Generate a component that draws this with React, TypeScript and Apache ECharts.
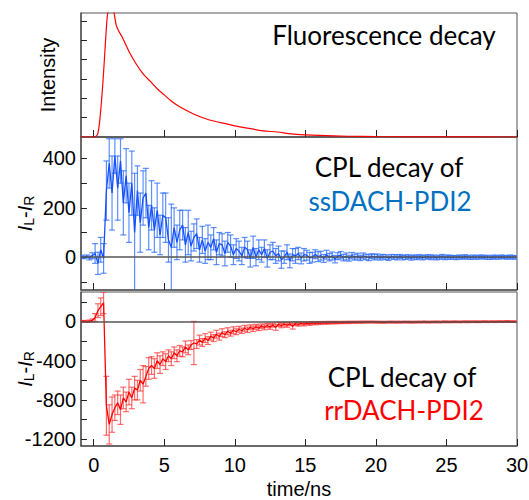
import React, { useEffect, useRef } from "react";
import * as echarts from "echarts";

// ---------- data ----------
const xTickValues = [0, 5, 10, 15, 20, 25, 30];
const intensityTicks = [1, 2, 3, 4, 5, 6];
const blueLabelValues = [0, 200, 400];
const blueTickValues = [-100, 0, 100, 200, 300, 400];
const redLabelValues = [-1200, -800, -400, 0];
const redTickValues = [-1200, -1000, -800, -600, -400, -200, 0, 200];

// Fluorescence decay (arbitrary units)
const fluoTime = [-0.9, 0, 0.2, 0.3, 0.4, 0.5, 0.6, 0.7, 0.8, 0.9, 1.0, 1.2, 1.4, 1.6, 1.8, 2.0, 2.5, 3.0, 3.5, 4.0, 4.5, 5.0, 5.5, 6.0, 7, 8, 9, 10, 11, 12, 13, 14, 15, 16, 18, 20, 22, 25, 30];
const fluoIntensity = [0, 0, 0.06, 0.2, 0.65, 1.4, 2.3, 3.35, 4.5, 5.65, 6.42, 6.75, 6.55, 5.78, 5.45, 5.2, 4.43, 3.79, 3.27, 2.89, 2.5, 2.18, 1.86, 1.6, 1.22, 0.93, 0.74, 0.58, 0.45, 0.32, 0.26, 0.16, 0.11, 0.08, 0.04, 0.02, 0.01, 0.005, 0];

// CPL decay sampling: start time and step (ns)
const T0 = -0.9;
const DT = 0.2;

// ssDACH-PDI2 (I_L - I_R) and error
const blueValues = [
  2, -1, 3, -3, 6, 15, -25, 30, -5, 270,
  380, 260, 410, 280, 390, 220, 330, 180, 300, 100,
  270, 140, 240, 260, 120, 210, 110, 190, 90, 170,
  160, 70, 40, 120, 60, 110, 130, 50, 100, 45,
  80, 95, 30, 70, 25, 60, 40, 75, 20, 55,
  50, 15, 60, 45, 10, 35, 25, 5, 40, 30,
  -5, 40, 0, 30, 10, 35, -5, 20, 25, 5,
  15, -10, 0, 20, -15, 10, 5, 15, -5, 10,
  8, -3, 0, 12, 2, 6, -5, 10, 0, 5,
  -8, 4, 8, -2, 3, -4, 6, 0, 4, -3,
  5, 1, -2, 4, 0, 3, -2, 2, 0, -4,
  2, 1, -1, 3, -2, 0, 2, -3, 1, -1,
  2, -2, 0, 2, -1, 1, -3, 0, 2, -2,
  1, -1, 0, -2, 1, -1, 2, 0, -2, 1,
  -1, 0, 2, -1, 0, -2, 1, 0, -1, 2,
  0, -1, 1, 0, -1,
];
const blueErrors = [
  6, 5, 6, 8, 12, 40, 45, 50, 60, 120,
  100, 150, 70, 130, 90, 130, 110, 120, 130, 240,
  100, 120, 110, 100, 90, 100, 90, 110, 80, 90,
  100, 90, 175, 80, 70, 80, 60, 70, 90, 60,
  55, 60, 50, 55, 50, 70, 50, 45, 50, 45,
  45, 50, 40, 45, 40, 40, 40, 35, 40, 35,
  35, 45, 35, 40, 30, 35, 35, 30, 35, 30,
  30, 35, 25, 30, 28, 25, 30, 25, 22, 25,
  20, 22, 20, 18, 20, 18, 16, 18, 15, 16,
  15, 14, 15, 13, 14, 12, 13, 12, 12, 11,
  12, 11, 12, 10, 11, 10, 10, 9, 10, 9,
  9, 9, 10, 8, 9, 9, 8, 9, 8, 9,
  8, 9, 8, 8, 9, 8, 8, 8, 9, 8,
  8, 8, 7, 8, 8, 7, 8, 8, 7, 8,
  7, 8, 7, 7, 8, 7, 7, 8, 7, 7,
  7, 7, 8, 7, 7,
];

// rrDACH-PDI2 (I_L - I_R) and error
const redValues = [
  0, 2, -2, 4, 10, 40, 110, 150, 190, -860,
  -1050, -950, -880, -830, -900, -780, -820, -720, -780, -680,
  -700, -600, -640, -560, -480, -450, -480, -400, -440, -380,
  -410, -350, -380, -320, -350, -300, -310, -260, -290, -240,
  -220, -230, -190, -215, -170, -195, -150, -170, -130, -155,
  -115, -135, -100, -120, -90, -105, -80, -95, -70, -85,
  -60, -75, -55, -68, -48, -60, -42, -55, -38, -60,
  -30, -42, -28, -38, -25, -50, -22, -30, -20, -28,
  -18, -24, -15, -20, -14, -18, -12, -16, -11, -14,
  -10, -13, -9, -12, -8, -11, -7, -10, -7, -9,
  -6, -8, -5, -8, -5, -9, -6, -10, -7, -8,
  -5, -9, -6, -8, -7, -5, -8, -6, -9, -5,
  -7, -6, -4, -8, -5, -6, -4, -7, -5, -3,
  -6, -4, -5, -3, -6, -4, -2, -5, -3, -4,
  -2, -5, -3, -1, -4, -3, -2, -4, -1, -3,
  -2, 0, -3, -1, -2,
];
const redErrors = [
  8, 8, 8, 10, 15, 40, 70, 90, 110, 300,
  200, 180, 130, 120, 150, 110, 100, 130, 110, 120,
  100, 110, 190, 100, 110, 90, 100, 80, 90, 70,
  80, 60, 70, 60, 60, 55, 50, 60, 50, 45,
  220, 45, 50, 40, 45, 40, 40, 35, 40, 35,
  40, 30, 35, 30, 35, 30, 30, 28, 30, 28,
  25, 28, 25, 25, 22, 25, 22, 25, 20, 30,
  20, 22, 20, 22, 18, 28, 18, 18, 16, 18,
  15, 15, 14, 14, 13, 13, 12, 12, 12, 11,
  11, 11, 10, 10, 10, 10, 9, 9, 9, 9,
  9, 8, 8, 8, 8, 8, 8, 8, 8, 8,
  8, 8, 8, 8, 8, 7, 8, 8, 7, 8,
  7, 8, 7, 8, 7, 7, 8, 7, 7, 8,
  7, 7, 8, 7, 7, 7, 7, 8, 7, 7,
  7, 7, 7, 7, 7, 7, 7, 7, 7, 7,
  7, 7, 7, 7, 7,
];

// ---------- helpers ----------
const AXIS_COLOR = "#555";
const FONT = "Liberation Sans";
const X_MIN = -0.9;
const X_MAX = 30;

function errorBarRenderer(color: string) {
  return (params: any, api: any) => {
    const x = api.value(0);
    const y = api.value(1);
    const e = api.value(2);
    const top = api.coord([x, y + e]);
    const bot = api.coord([x, y - e]);
    const hw = 3;
    const style = { stroke: color, lineWidth: 1.2, fill: null };
    return {
      type: "group",
      children: [
        { type: "line", shape: { x1: top[0], y1: top[1], x2: bot[0], y2: bot[1] }, style },
        { type: "line", shape: { x1: top[0] - hw, y1: top[1], x2: top[0] + hw, y2: top[1] }, style },
        { type: "line", shape: { x1: bot[0] - hw, y1: bot[1], x2: bot[0] + hw, y2: bot[1] }, style },
      ],
    };
  };
}

const plainNumber = (v: number) => String(v);

function xAxisFor(gridIndex: number, showLabels: boolean): any {
  return {
    type: "value",
    gridIndex,
    min: X_MIN,
    max: X_MAX,
    axisLine: { show: true, onZero: false, lineStyle: { color: AXIS_COLOR, width: 1.5 } },
    axisTick: { show: true, inside: true, length: 7, customValues: xTickValues, lineStyle: { color: "#222", width: 1 } },
    axisLabel: { show: showLabels, customValues: xTickValues, fontSize: 20, color: "#000", fontFamily: FONT, margin: 9, formatter: plainNumber },
    splitLine: { show: false },
    ...(showLabels
      ? {
          name: "time/ns",
          nameLocation: "middle",
          nameGap: 33,
          nameMoveOverlap: false,
          nameTextStyle: { fontSize: 20, color: "#000", fontFamily: FONT },
        }
      : {}),
  };
}

const ilirName = "{i|I}{s|L}{n|-}{i|I}{s|R}";
const ilirRich = {
  i: { fontSize: 20, fontStyle: "italic", fontFamily: FONT, color: "#000", lineHeight: 22 },
  n: { fontSize: 20, fontFamily: FONT, color: "#000", lineHeight: 22 },
  s: { fontSize: 14, fontFamily: FONT, color: "#000", lineHeight: 14, padding: [8, 0, 0, 0] },
};

function yAxisFor(gridIndex: number, extra: any): any {
  return {
    type: "value",
    gridIndex,
    axisLine: { show: true, onZero: false, lineStyle: { color: AXIS_COLOR, width: 1.5 } },
    splitLine: { show: false },
    nameLocation: "middle",
    nameMoveOverlap: false,
    ...extra,
  };
}

export default function App() {
  const ref = useRef<HTMLDivElement>(null);

  useEffect(() => {
    if (!ref.current) return;
    const chart = echarts.init(ref.current, undefined, { renderer: "svg" });

    const times = blueValues.map((_, i) => +(T0 + DT * i).toFixed(2));
    const blueLine = times.map((t, i) => [t, blueValues[i]]);
    const blueBars = times.map((t, i) => [t, blueValues[i], blueErrors[i]]);
    const redLine = times.map((t, i) => [t, redValues[i]]);
    const redBars = times.map((t, i) => [t, redValues[i], redErrors[i]]);
    const fluo = fluoTime.map((t, i) => [t, fluoIntensity[i]]);

    const zeroLine = {
      silent: true,
      symbol: "none",
      label: { show: false },
      lineStyle: { color: AXIS_COLOR, width: 1.5, type: "solid" },
      data: [{ yAxis: 0 }],
    };

    const textStyleBase = { fontFamily: "Lato", fontSize: 26, textAlign: "center", align: "center", textVerticalAlign: "middle", verticalAlign: "middle" };

    const gridBase = { left: 81, right: 12, show: true, borderColor: AXIS_COLOR, borderWidth: 1, backgroundColor: "transparent", containLabel: false, outerBoundsMode: "none" };

    chart.setOption({
      animation: false,
      grid: [
        { ...gridBase, top: 13, height: 124 },
        { ...gridBase, top: 137, height: 153 },
        { ...gridBase, top: 292, height: 154 },
      ],
      xAxis: [xAxisFor(0, false), xAxisFor(1, false), xAxisFor(2, true)],
      yAxis: [
        yAxisFor(0, {
          min: 0,
          max: 6.42,
          axisTick: { show: true, inside: true, length: 6, customValues: intensityTicks, lineStyle: { color: "#222" } },
          axisLabel: { show: false },
          name: "Intensity",
          nameGap: 23,
          nameTextStyle: { fontSize: 20, color: "#000", fontFamily: FONT },
        }),
        yAxisFor(1, {
          min: -133,
          max: 487,
          axisTick: { show: true, inside: true, length: 6, customValues: blueTickValues, lineStyle: { color: "#222" } },
          axisLabel: { customValues: blueLabelValues, fontSize: 20, color: "#000", fontFamily: FONT, margin: 5, formatter: plainNumber },
          name: ilirName,
          nameGap: 45,
          nameTextStyle: { rich: ilirRich },
        }),
        yAxisFor(2, {
          min: -1270,
          max: 300,
          axisTick: { show: true, inside: true, length: 6, customValues: redTickValues, lineStyle: { color: "#222" } },
          axisLabel: { customValues: redLabelValues, fontSize: 20, color: "#000", fontFamily: FONT, margin: 5, formatter: plainNumber },
          name: ilirName,
          nameGap: 45,
          nameTextStyle: { rich: ilirRich },
        }),
      ],
      series: [
        {
          type: "line",
          xAxisIndex: 0,
          yAxisIndex: 0,
          data: fluo,
          symbol: "none",
          smooth: 0.3,
          clip: true,
          lineStyle: { color: "#ff0000", width: 1.2 },
        },
        {
          type: "custom",
          xAxisIndex: 1,
          yAxisIndex: 1,
          data: blueBars,
          clip: true,
          renderItem: errorBarRenderer("rgba(40,105,255,0.75)"),
          markLine: zeroLine,
        },
        {
          type: "line",
          xAxisIndex: 1,
          yAxisIndex: 1,
          data: blueLine,
          symbol: "none",
          clip: true,
          lineStyle: { color: "#1550ff", width: 1.3 },
        },
        {
          type: "custom",
          xAxisIndex: 2,
          yAxisIndex: 2,
          data: redBars,
          clip: true,
          renderItem: errorBarRenderer("rgba(255,45,45,0.7)"),
          markLine: zeroLine,
        },
        {
          type: "line",
          xAxisIndex: 2,
          yAxisIndex: 2,
          data: redLine,
          symbol: "none",
          clip: true,
          lineStyle: { color: "#ff0000", width: 1.3 },
        },
      ],
      graphic: [
        { type: "text", x: 384, y: 35, style: { ...textStyleBase, text: "Fluorescence decay", fill: "#000" } },
        { type: "text", x: 389, y: 167, style: { ...textStyleBase, text: "CPL decay of", fill: "#000" } },
        { type: "text", x: 390, y: 201, style: { ...textStyleBase, text: "ssDACH-PDI2", fill: "#0070C0" } },
        { type: "text", x: 402, y: 377, style: { ...textStyleBase, text: "CPL decay of", fill: "#000" } },
        { type: "text", x: 404, y: 410, style: { ...textStyleBase, text: "rrDACH-PDI2", fill: "#ff0000" } },
      ],
    });

    return () => chart.dispose();
  }, []);

  return (
    <div
      ref={ref}
      style={{ position: "absolute", left: 0, top: 0, width: 529, height: 500 }}
    />
  );
}
